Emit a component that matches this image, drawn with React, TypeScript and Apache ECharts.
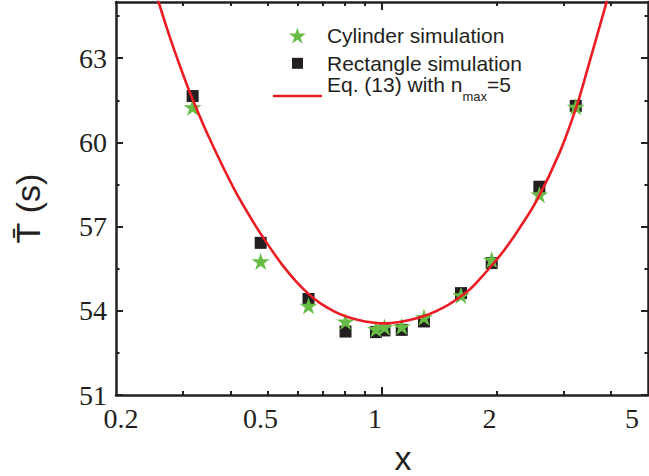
import React, { useEffect, useRef } from 'react';
import * as echarts from 'echarts';

// ---- data ----
const xTickLabels = [0.2, 0.5, 1, 2, 5];
const xMajorTicks = [1];
const xMinorTicks = [0.3, 0.4, 0.5, 0.6, 0.7, 0.8, 0.9, 2, 3, 4];
const yTickLabels = [51, 54, 57, 60, 63];
const yMinorTicks = [52.5, 55.5, 58.5, 61.5, 64.5];

const cylinderX = [0.318, 0.48, 0.641, 0.802, 0.964, 1.015, 1.127, 1.289, 1.613, 1.942, 2.591, 3.23];
const cylinderY = [61.25, 55.76, 54.18, 53.62, 53.35, 53.42, 53.44, 53.77, 54.55, 55.82, 58.14, 61.27];

const rectangleX = [0.318, 0.48, 0.641, 0.802, 0.964, 1.015, 1.127, 1.289, 1.613, 1.942, 2.591, 3.23];
const rectangleY = [61.65, 56.42, 54.42, 53.26, 53.24, 53.3, 53.32, 53.62, 54.63, 55.7, 58.42, 61.3];

const eqX = [0.2531, 0.261, 0.2773, 0.2976, 0.3148, 0.351, 0.4109, 0.4686, 0.5077, 0.5502, 0.5943, 0.6402, 0.6832, 0.73, 0.7757, 0.824, 0.9023, 1.0183, 1.2337, 1.449, 1.67, 1.774, 2.042, 2.259, 2.551, 2.936, 3.249, 3.451, 3.879, 4.021];
const eqY = [65.42, 64.84, 63.73, 62.55, 61.68, 60.18, 58.28, 56.96, 56.25, 55.59, 55.05, 54.61, 54.3, 54.06, 53.88, 53.75, 53.62, 53.55, 53.73, 54.11, 54.67, 55.01, 55.97, 56.79, 57.93, 59.67, 61.3, 62.51, 64.93, 65.68];

const names = ['Cylinder simulation', 'Rectangle simulation', 'Eq. (13) with n_max=5'];

const INK = '#231f20';
const GREEN = '#67bd45';
const RED = '#ec1c24';
const STAR = 'path://M50 0L61.23 34.55L97.55 34.55L68.17 55.9L79.39 90.45L50 69.1L20.61 90.45L31.83 55.9L2.45 34.55L38.77 34.55Z';
const SQUARE = 'path://M0 0H10V10H0Z';
const LINE_ICON = 'path://M0 0H49V2.6H0Z';

const lg = (v: number) => Math.log10(v);
const toPts = (xs: number[], ys: number[]) => xs.map((x, i) => [lg(x), ys[i]]);

export default function App() {
  const ref = useRef<HTMLDivElement>(null);
  useEffect(() => {
    if (!ref.current) return;
    const chart = echarts.init(ref.current, undefined, { renderer: 'svg' });
    const xMin = lg(0.2);
    const xMax = lg(5);
    const serif = 'Liberation Serif';
    const sans = 'Liberation Sans';
    const lab = { fontFamily: serif, fontSize: 28, color: INK };
    const baseX = (position: 'bottom' | 'top') => ({
      type: 'value' as const,
      gridIndex: 0,
      position,
      min: xMin,
      max: xMax,
      splitLine: { show: false },
    });
    const baseY = (position: 'left' | 'right') => ({
      type: 'value' as const,
      gridIndex: 0,
      position,
      min: 51,
      max: 65,
      splitLine: { show: false },
    });
    const tickStyle = { color: INK, width: 2 };
    const legendBase = {
      orient: 'vertical' as const,
      itemWidth: 49,
      padding: 0,
      selectedMode: false,
      symbolKeepAspect: true,
      textStyle: { fontFamily: sans, fontSize: 21, color: INK },
    };

    chart.setOption({
      animation: false,
      backgroundColor: '#ffffff',
      grid: { left: 116, right: 1, top: 2, bottom: 81, containLabel: false, outerBoundsMode: 'none' },
      legend: [
        { ...legendBase, left: 289, top: 25, itemHeight: 16, data: [names[0]] },
        { ...legendBase, left: 292, top: 52.8, itemHeight: 11, data: [names[1]] },
        {
          ...legendBase,
          left: 273,
          top: 73.5,
          itemHeight: 14,
          data: [{ name: names[2], icon: LINE_ICON }],
          formatter: () => '{a|Eq. (13) with n}{s|max}{a|=5}',
          textStyle: {
            fontFamily: sans,
            fontSize: 21,
            color: INK,
            rich: {
              a: { fontFamily: sans, fontSize: 21, lineHeight: 21, color: INK, padding: [0, 0, 12, 0], verticalAlign: 'bottom' },
              s: { fontFamily: sans, fontSize: 13, lineHeight: 13, color: INK, padding: [0, 0, 4, 0], verticalAlign: 'bottom' },
            },
          },
        },
      ],
      xAxis: [
        {
          ...baseX('bottom'),
          name: 'x',
          nameLocation: 'middle',
          nameGap: 46,
          nameTextStyle: { fontFamily: sans, fontSize: 34, color: INK, padding: [0, 0, 0, 42] },
          axisLine: { show: true, onZero: false, lineStyle: { color: INK, width: 2.5 } },
          axisTick: { show: true, inside: true, length: 8, customValues: xMajorTicks.map(lg), lineStyle: tickStyle },
          axisLabel: {
            show: true,
            margin: 9,
            customValues: xTickLabels.map(lg),
            formatter: (v: number) => {
              const raw = Math.round(Math.pow(10, v) * 10) / 10;
              const s = String(raw);
              if (raw === 0.2) return `{l|${s}}`;
              if (raw === 5) return `{r|${s}}`;
              return `{c|${s}}`;
            },
            rich: {
              c: { ...lab, padding: [0, 14, 0, 0] },
              l: { ...lab, padding: [0, 0, 0, 10] },
              r: { ...lab, padding: [0, 32, 0, 0] },
            },
          },
        },
        {
          ...baseX('bottom'),
          axisLine: { show: false, onZero: false },
          axisTick: { show: true, inside: true, length: 4, customValues: xMinorTicks.map(lg), lineStyle: tickStyle },
          axisLabel: { show: false },
        },
        {
          ...baseX('top'),
          axisLine: { show: true, onZero: false, lineStyle: { color: INK, width: 2.5 } },
          axisTick: { show: true, inside: true, length: 8, customValues: xMajorTicks.map(lg), lineStyle: tickStyle },
          axisLabel: { show: false },
        },
        {
          ...baseX('top'),
          axisLine: { show: false, onZero: false },
          axisTick: { show: true, inside: true, length: 4, customValues: xMinorTicks.map(lg), lineStyle: tickStyle },
          axisLabel: { show: false },
        },
      ],
      yAxis: [
        {
          ...baseY('left'),
          name: 'T\u0304 (s)',
          nameLocation: 'middle',
          nameGap: 71,
          nameTextStyle: { fontFamily: sans, fontSize: 34, color: INK, padding: [0, 20, 0, 0] },
          axisLine: { show: true, onZero: false, lineStyle: { color: INK, width: 2.5 } },
          axisTick: { show: true, inside: true, length: 7, customValues: yTickLabels, lineStyle: tickStyle },
          axisLabel: { show: true, margin: 9, customValues: yTickLabels, ...lab },
        },
        {
          ...baseY('left'),
          axisLine: { show: false, onZero: false },
          axisTick: { show: true, inside: true, length: 3.5, customValues: yMinorTicks, lineStyle: tickStyle },
          axisLabel: { show: false },
        },
        {
          ...baseY('right'),
          axisLine: { show: true, onZero: false, lineStyle: { color: INK, width: 2.5 } },
          axisTick: { show: true, inside: true, length: 7, customValues: yTickLabels, lineStyle: tickStyle },
          axisLabel: { show: false },
        },
        {
          ...baseY('right'),
          axisLine: { show: false, onZero: false },
          axisTick: { show: true, inside: true, length: 3.5, customValues: yMinorTicks, lineStyle: tickStyle },
          axisLabel: { show: false },
        },
      ],
      series: [
        {
          name: names[1],
          type: 'scatter',
          xAxisIndex: 0,
          yAxisIndex: 0,
          symbol: SQUARE,
          symbolSize: 12,
          symbolKeepAspect: true,
          itemStyle: { color: INK, opacity: 1 },
          data: toPts(rectangleX, rectangleY),
          z: 2,
        },
        {
          name: names[0],
          type: 'scatter',
          xAxisIndex: 0,
          yAxisIndex: 0,
          symbol: STAR,
          symbolSize: 18,
          symbolKeepAspect: true,
          itemStyle: { color: GREEN, opacity: 1 },
          data: toPts(cylinderX, cylinderY),
          z: 3,
        },
        {
          name: names[2],
          type: 'line',
          xAxisIndex: 0,
          yAxisIndex: 0,
          showSymbol: false,
          symbol: 'none',
          smooth: 0.3,
          clip: true,
          lineStyle: { color: RED, width: 2.6 },
          itemStyle: { color: RED },
          data: toPts(eqX, eqY),
          z: 4,
        },
      ],
    });
    return () => chart.dispose();
  }, []);
  return (
    <div
      ref={ref}
      style={{ position: 'fixed', left: 0, top: 0, width: 649, height: 476, background: '#fff' }}
    />
  );
}
